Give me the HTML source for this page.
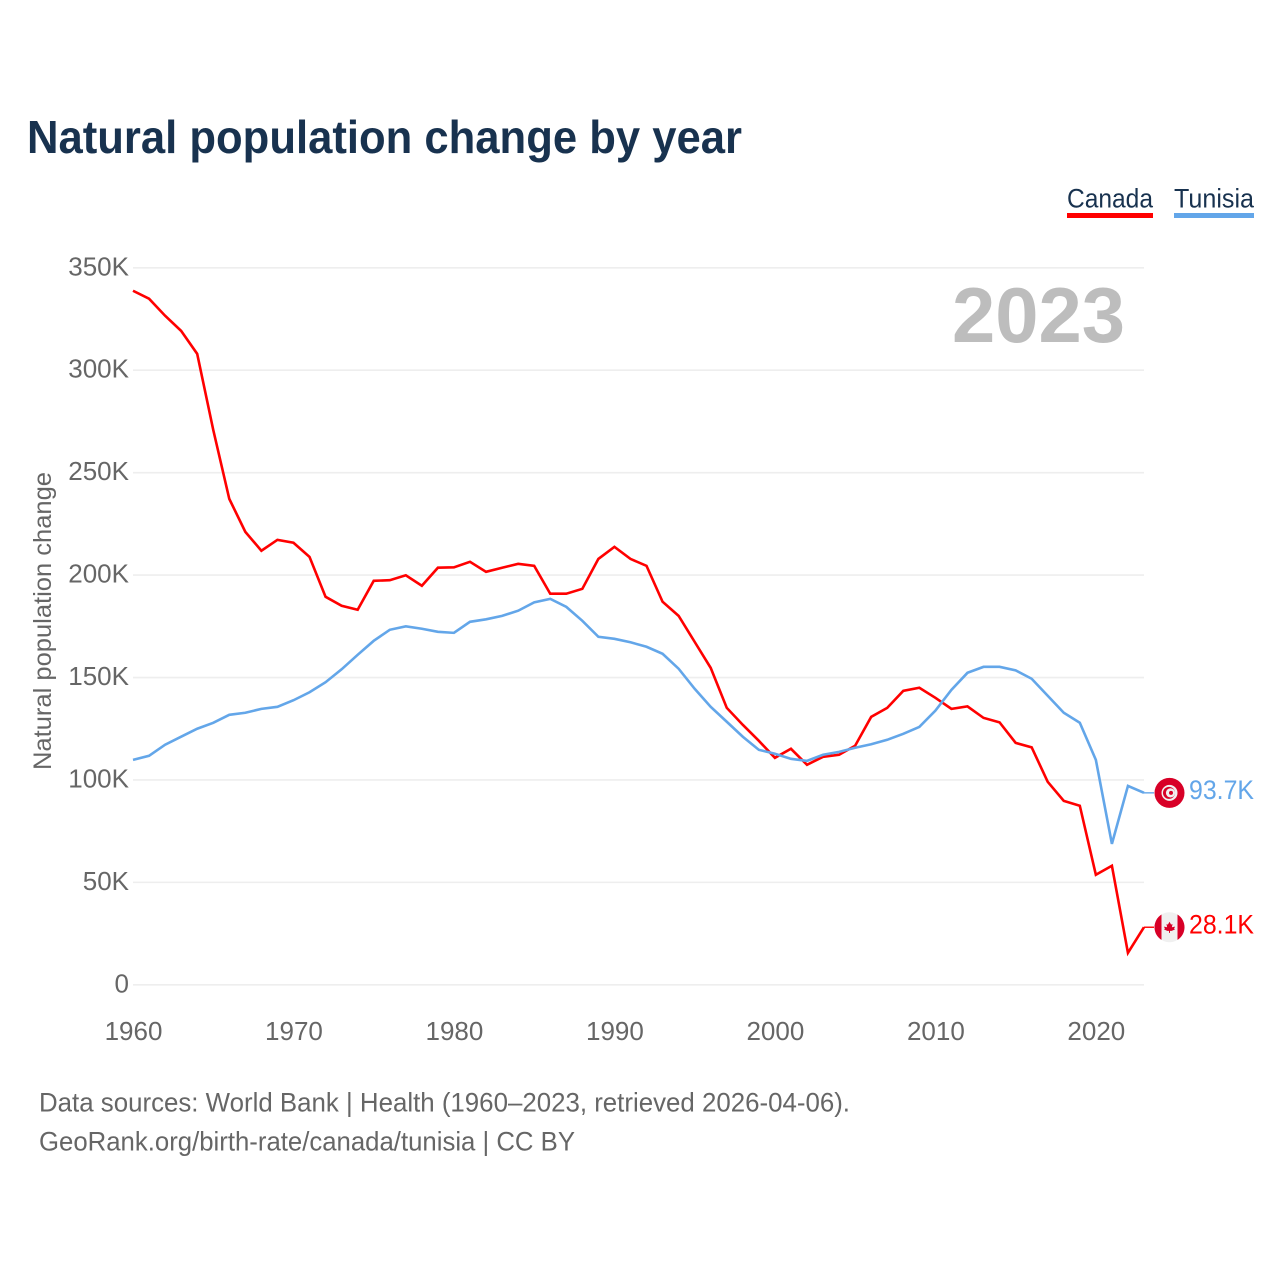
<!DOCTYPE html>
<html lang="en">
<head>
<meta charset="utf-8">
<title>Natural population change by year</title>
<style>
html,body{margin:0;padding:0;background:#fff;}
#chart{display:block;width:1280px;height:1280px;font-family:"Liberation Sans",sans-serif;}
</style>
</head>
<body>
<svg id="chart" xmlns="http://www.w3.org/2000/svg" width="1280" height="1280" viewBox="0 0 1280 1280">
  <rect x="0" y="0" width="1280" height="1280" fill="#ffffff"/>
  <text x="27" y="153" font-size="46" font-weight="700" fill="#18324f" textLength="715" lengthAdjust="spacingAndGlyphs">Natural population change by year</text>

  <g>
    <g>
      <text x="1067" y="207.5" font-size="27" fill="#18324f" textLength="86" lengthAdjust="spacingAndGlyphs">Canada</text>
      <rect x="1067" y="213" width="86" height="5" fill="#ff0000"/>
    </g>
    <g>
      <text x="1174" y="207.5" font-size="27" fill="#18324f" textLength="80" lengthAdjust="spacingAndGlyphs">Tunisia</text>
      <rect x="1174" y="213" width="80" height="5" fill="#63a6e9"/>
    </g>
  </g>

  <g id="grid"></g>
  <g id="yticks"></g>
  <g id="xticks"></g>

  <text transform="translate(51 621) rotate(-90)" text-anchor="middle" font-size="25" fill="#666666" textLength="298" lengthAdjust="spacingAndGlyphs">Natural population change</text>
  <text x="952" y="342" font-size="78" font-weight="700" fill="#bdbdbd" textLength="173" lengthAdjust="spacingAndGlyphs">2023</text>

  <g id="series"></g>

  <g id="flag-tunisia">
    <circle cx="0" cy="0" r="15" fill="#d80027"/>
    <circle cx="0" cy="0" r="8" fill="#f0f0f0"/>
    <circle cx="-0.5" cy="0" r="6" fill="#d80027"/>
    <circle cx="1" cy="0" r="4.6" fill="#f0f0f0"/>
    <circle cx="1.5" cy="0" r="2" fill="#d80027"/>
  </g>
  <g id="flag-canada">
    <circle cx="0" cy="0" r="15" fill="#f0f0f0"/>
    <path d="M-8 -12.7 A15 15 0 0 0 -8 12.7 Z" fill="#d80027"/>
    <path d="M8 -12.7 A15 15 0 0 1 8 12.7 Z" fill="#d80027"/>
    <polygon points="0,-5.5 1.6,-2.6 3,-3.2 2.4,0 5.5,-0.6 4.6,1.6 5.6,2.2 2.2,3.6 0.5,3.6 0.5,5.6 -0.5,5.6 -0.5,3.6 -2.2,3.6 -5.6,2.2 -4.6,1.6 -5.5,-0.6 -2.4,0 -3,-3.2 -1.6,-2.6" fill="#d80027"/>
  </g>

  <text id="label-tunisia" x="1189" font-size="26.5" fill="#63a6e9" textLength="65" lengthAdjust="spacingAndGlyphs"></text>
  <text id="label-canada" x="1189" font-size="26.5" fill="#ff0000" textLength="65" lengthAdjust="spacingAndGlyphs"></text>

  <g>
    <text x="39" y="1111.5" font-size="27" fill="#666666" textLength="811" lengthAdjust="spacingAndGlyphs">Data sources: World Bank | Health (1960–2023, retrieved 2026-04-06).</text>
    <text x="39" y="1150.5" font-size="27" fill="#666666" textLength="536" lengthAdjust="spacingAndGlyphs">GeoRank.org/birth-rate/canada/tunisia | CC BY</text>
  </g>
</svg>
<script>
const years = [1960,1961,1962,1963,1964,1965,1966,1967,1968,1969,1970,1971,1972,1973,1974,1975,1976,1977,1978,1979,1980,1981,1982,1983,1984,1985,1986,1987,1988,1989,1990,1991,1992,1993,1994,1995,1996,1997,1998,1999,2000,2001,2002,2003,2004,2005,2006,2007,2008,2009,2010,2011,2012,2013,2014,2015,2016,2017,2018,2019,2020,2021,2022,2023];
const canadaValues = [338.8,334.9,326.6,319.2,308.0,270.9,237.2,221.1,211.9,217.2,215.8,208.9,189.4,185.0,183.1,197.2,197.5,199.9,194.8,203.6,203.8,206.5,201.6,203.6,205.5,204.5,190.9,190.9,193.3,207.9,213.8,207.9,204.5,187.0,180.1,167.4,154.7,135.2,126.9,119.1,110.8,115.2,107.4,111.3,112.3,116.7,130.8,135.2,143.5,145.0,140.1,134.7,135.9,130.3,128.1,118.1,115.9,99.1,89.8,87.4,53.7,58.1,15.6,28.1];
const tunisiaValues = [109.8,111.8,117.2,121.1,125.0,127.9,131.8,132.8,134.7,135.7,138.9,142.8,147.7,154.0,161.1,167.9,173.3,175.0,173.8,172.3,171.8,177.2,178.4,180.1,182.6,186.7,188.4,184.5,177.7,169.9,168.9,167.2,165.0,161.6,154.3,144.5,135.7,128.4,121.1,114.7,112.8,110.3,109.3,112.3,113.7,115.7,117.4,119.6,122.5,125.9,133.8,144.0,152.3,155.2,155.2,153.5,149.4,141.1,132.8,127.9,109.8,68.8,97.1,93.7];
const yTickValues = [0,50,100,150,200,250,300,350];
const yTickLabels = ["0","50K","100K","150K","200K","250K","300K","350K"];
const xTickValues = [1960,1970,1980,1990,2000,2010,2020];

const NS = "http://www.w3.org/2000/svg";
const plotLeft = 133, plotRight = 1144, plotBottom = 984.8, plotTop = 267.8;
const xScale = function (year) { return plotLeft + (year - 1960) * (plotRight - plotLeft) / 63; };
const yScale = function (value) { return plotBottom - value * (plotBottom - plotTop) / 350; };

function make(tag, attrs, text) {
  const el = document.createElementNS(NS, tag);
  for (const key in attrs) el.setAttribute(key, attrs[key]);
  if (text !== undefined) el.textContent = text;
  return el;
}

const grid = document.getElementById("grid");
const yticks = document.getElementById("yticks");
yTickValues.forEach(function (value, i) {
  const line = make("line", {x1: plotLeft, x2: plotRight, y1: yScale(value), y2: yScale(value), stroke: "#eeeeee", "stroke-width": 1.6});
  
  
  grid.appendChild(line);
  const label = make("text", {x: 129, y: yScale(value) + 7.5, "text-anchor": "end", "font-size": 26, fill: "#666666"}, yTickLabels[i]);
  
  
  yticks.appendChild(label);
});

const xticks = document.getElementById("xticks");
xTickValues.forEach(function (year) {
  const label = make("text", {x: xScale(year) + 0.5, y: 1040, "text-anchor": "middle", "font-size": 26, fill: "#666666"}, String(year));
  
  
  xticks.appendChild(label);
});

const series = document.getElementById("series");
function drawSeries(values, color, seriesName, flagId, labelId) {
  const points = values.map(function (value, i) {
    return xScale(years[i]).toFixed(2) + "," + yScale(value).toFixed(2);
  }).join(" ");
  const line = make("polyline", {points: points, fill: "none", stroke: color, "stroke-width": 2.6, "stroke-linejoin": "miter"});
  
  
  series.appendChild(line);

  const last = values[values.length - 1];
  const endX = xScale(years[years.length - 1]);
  const endY = yScale(last);
  const connector = make("line", {x1: endX, x2: endX + 10, y1: endY, y2: endY, stroke: color, "stroke-width": 1.4});
  
  
  series.appendChild(connector);

  document.getElementById(flagId).setAttribute("transform", "translate(" + (endX + 25.5) + " " + endY + ")");
  const label = document.getElementById(labelId);
  label.setAttribute("y", endY + 6.3);
  label.textContent = last.toFixed(1) + "K";
}
drawSeries(canadaValues, "#ff0000", "canada", "flag-canada", "label-canada");
drawSeries(tunisiaValues, "#63a6e9", "tunisia", "flag-tunisia", "label-tunisia");
</script>
</body>
</html>
